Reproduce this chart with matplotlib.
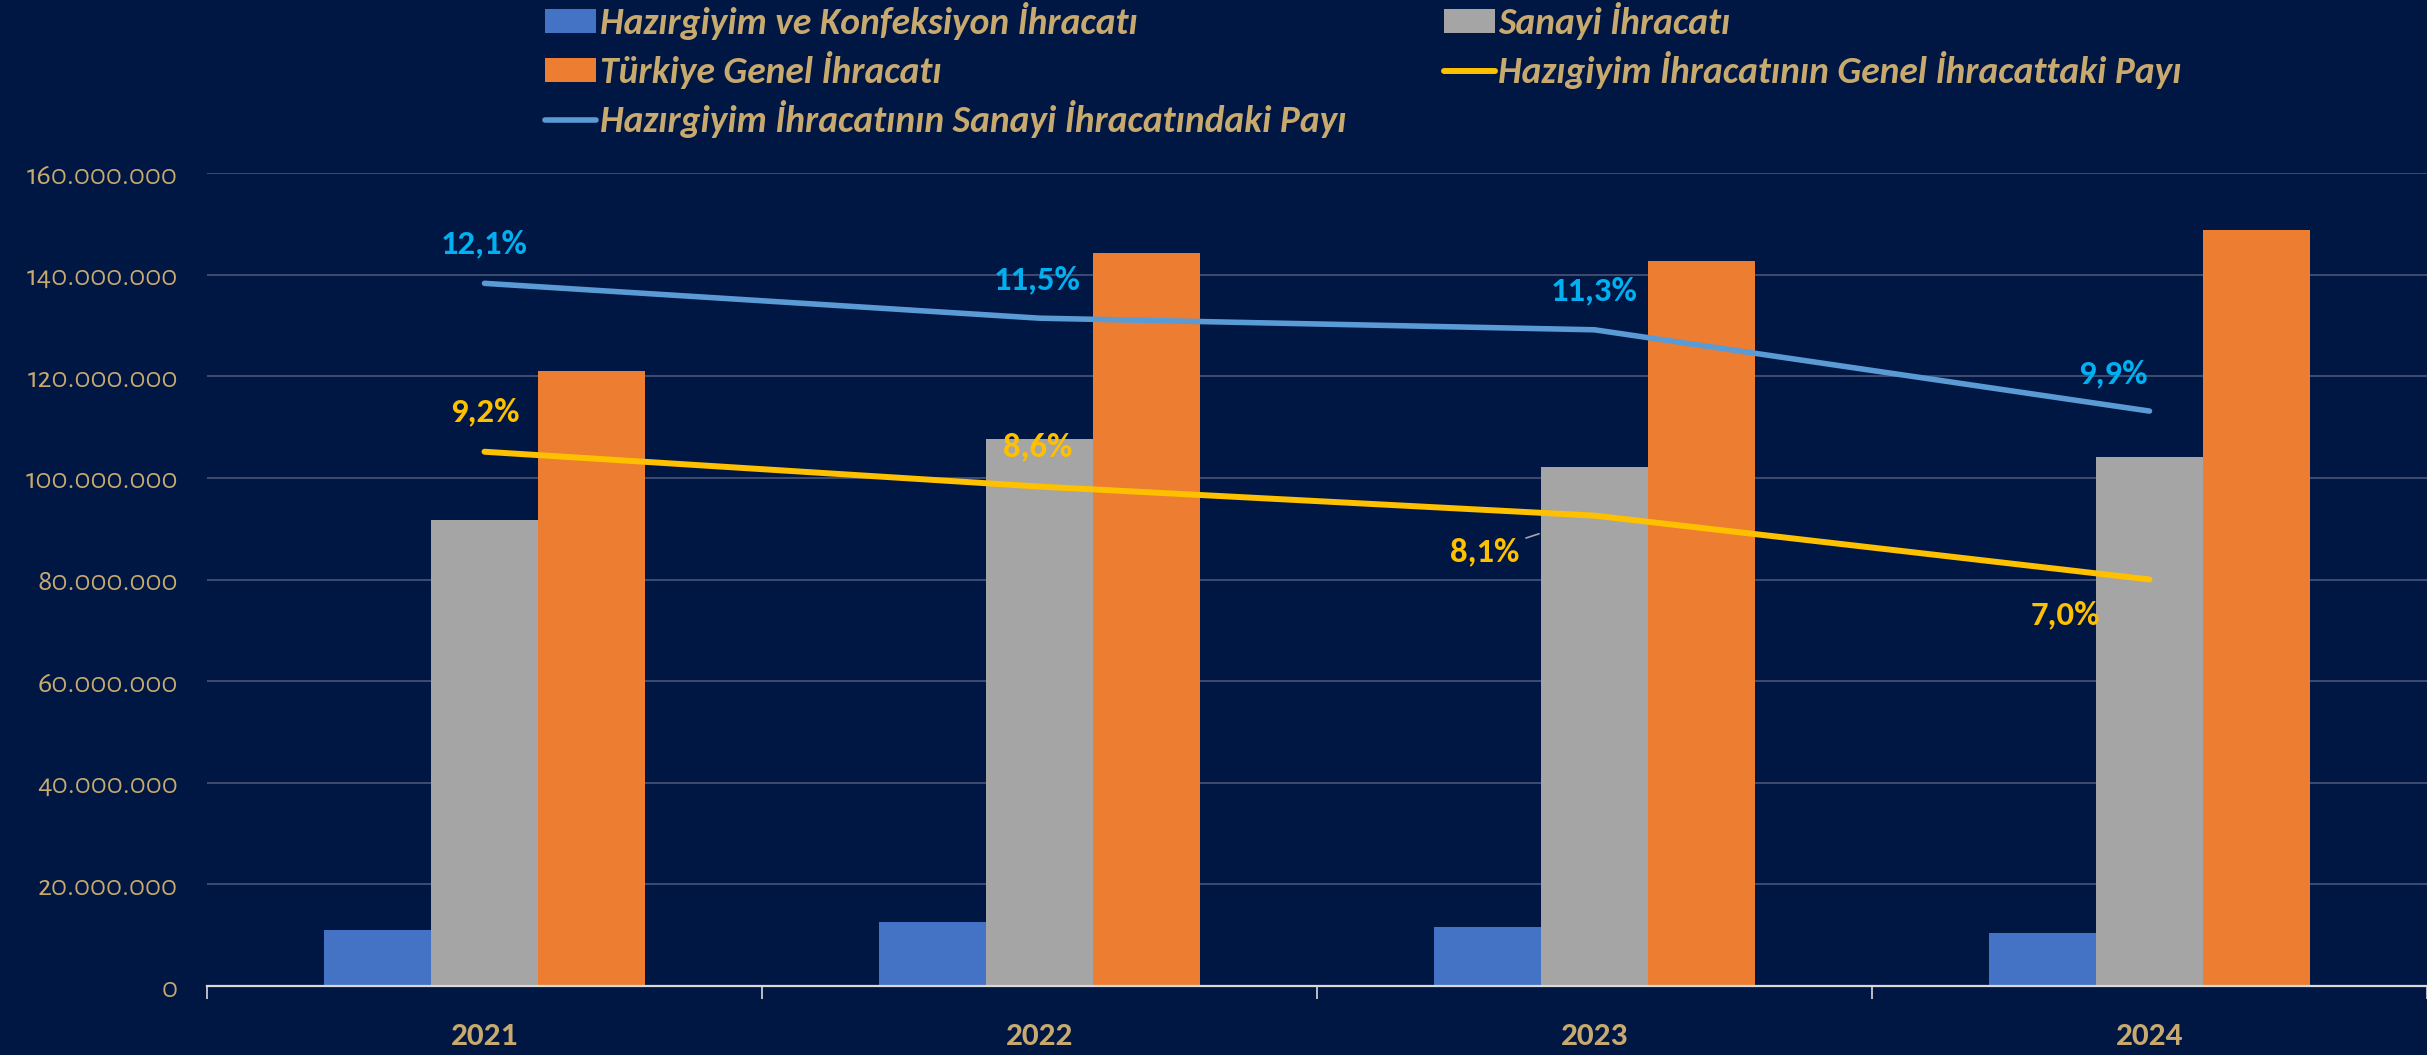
import matplotlib.pyplot as plt
import numpy as np
from matplotlib.ticker import FuncFormatter, MultipleLocator, FixedLocator

# Data
years = ["2021", "2022", "2023", "2024"]
hazirgiyim = [11.0e6, 12.5e6, 11.6e6, 10.4e6]
sanayi = [91.7e6, 107.6e6, 102.1e6, 104.2e6]
genel = [121.0e6, 144.2e6, 142.6e6, 148.7e6]
pay_genel = [9.2, 8.6, 8.1, 7.0]      # %
pay_sanayi = [12.1, 11.5, 11.3, 9.9]  # %

series_names = ["Hazırgiyim ve Konfeksiyon İhracatı", "Sanayi İhracatı",
                "Türkiye Genel İhracatı"]
line_names = ["Hazıgiyim İhracatının Genel İhracattaki Payı",
              "Hazırgiyim İhracatının Sanayi İhracatındaki Payı"]

BG = "#001744"
GOLD = "#C8AA6E"
CALIBRI = ["Carlito", "Fira Sans Condensed", "DejaVu Sans"]
CORBEL = ["Alegreya Sans", "Lato", "DejaVu Sans"]

fig = plt.figure(figsize=(24.27, 10.55), dpi=100, facecolor=BG)
ax = fig.add_axes([207 / 2427, 1 - 986 / 1055, 1 - 207 / 2427, (986 - 173) / 1055])
ax.set_facecolor(BG)

x = np.arange(len(years))
w = 0.193
b1 = ax.bar(x - w, hazirgiyim, w, color="#4472C4", label=series_names[0], zorder=2)
b2 = ax.bar(x, sanayi, w, color="#A5A5A5", label=series_names[1], zorder=2)
b3 = ax.bar(x + w, genel, w, color="#ED7D31", label=series_names[2], zorder=2)

ax.set_xlim(-0.5, 3.5)
ax.set_ylim(0, 160e6)
ax.yaxis.set_major_locator(MultipleLocator(20e6))
ax.yaxis.set_major_formatter(FuncFormatter(lambda v, p: f"{int(v):,}".replace(",", ".")))
ax.grid(axis="y", color="#3D4C70", lw=1.4)
ax.set_axisbelow(True)
for s in ["top", "right", "left"]:
    ax.spines[s].set_visible(False)
ax.spines["bottom"].set_color("#D9D9D9")
ax.spines["bottom"].set_linewidth(1.6)
ax.spines["bottom"].set_zorder(3)

ax.set_xticks(x)
ax.set_xticklabels(years)
ax.xaxis.set_minor_locator(FixedLocator([-0.5, 0.5, 1.5, 2.5, 3.5]))
ax.tick_params(axis="x", which="major", length=0, pad=26, labelcolor=GOLD)
ax.tick_params(axis="x", which="minor", length=9, width=1.2, color="#D9D9D9", direction="out")
ax.tick_params(axis="y", length=0, pad=21, labelcolor=GOLD, labelsize=22)
for lab in ax.get_xticklabels():
    lab.set_family(CALIBRI)
    lab.set_fontweight("bold")
    lab.set_fontsize(24)
for lab in ax.get_yticklabels():
    lab.set_family(CORBEL)

# Share lines on a hidden secondary axis
ax2 = ax.twinx()
ax2.set_ylim(0, 14)
ax2.axis("off")
l1, = ax2.plot(x, pay_genel, color="#FFC000", lw=4.3, solid_capstyle="round",
               label=line_names[0], zorder=4)
l2, = ax2.plot(x, pay_sanayi, color="#5B9BD5", lw=4.0, solid_capstyle="round",
               label=line_names[1], zorder=4)

lab_kw = dict(textcoords="offset pixels", ha="center", va="center",
              fontsize=25, fontweight="bold", family=CALIBRI)
sanayi_off = [(0, 40), (-2, 38), (0, 39), (-37, 37)]
genel_off = [(0, 40), (-2, 40), (-110, -36), (-84, -35)]
for i, v in enumerate(pay_sanayi):
    ax2.annotate(f"{v:.1f}%".replace(".", ","), (x[i], v), xytext=sanayi_off[i],
                 color="#00B0F0", **lab_kw)
for i, v in enumerate(pay_genel):
    arrow = dict(arrowstyle="-", color="#A5A5A5", lw=1.2, shrinkA=3, shrinkB=42) if i == 2 else None
    ax2.annotate(f"{v:.1f}%".replace(".", ","), (x[i], v), xytext=genel_off[i],
                 color="#FFC000", arrowprops=arrow, **lab_kw)

handles = [b1, b3, l2, b2, l1]
labels = [series_names[0], series_names[2], line_names[1], series_names[1], line_names[0]]
leg = fig.legend(handles, labels, ncol=2, loc="upper left",
                 bbox_to_anchor=(545 / 2427, 1 - 2 / 1055), frameon=False,
                 borderpad=0, borderaxespad=0, handlelength=1.36, handleheight=0.6,
                 handletextpad=0.1, labelspacing=0.3, columnspacing=2.6,
                 prop=dict(family=CALIBRI, weight="bold", style="italic", size=27))
for t in leg.get_texts():
    t.set_color(GOLD)

fig.savefig("out.png", dpi=100, facecolor=BG)
